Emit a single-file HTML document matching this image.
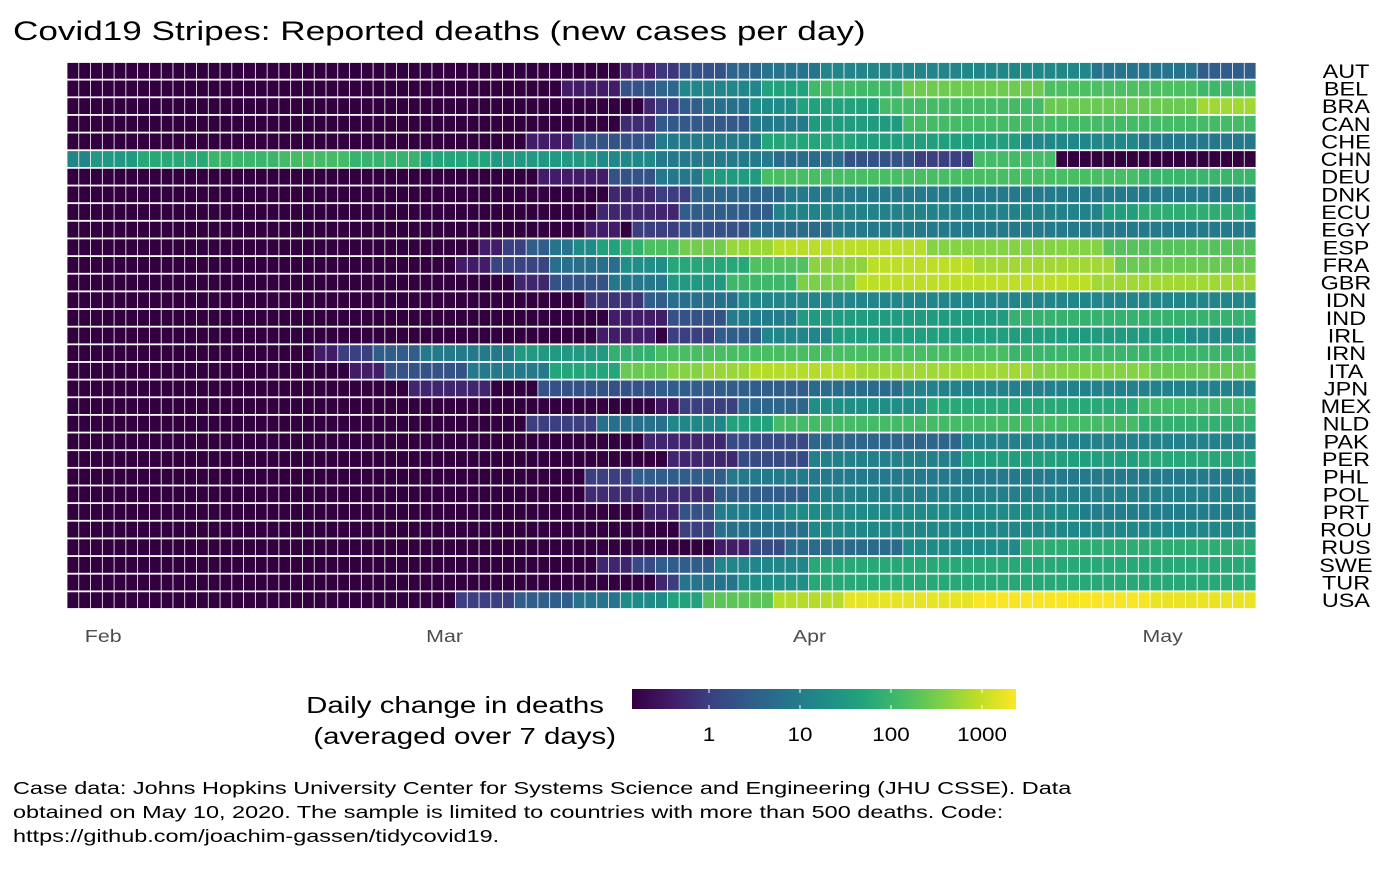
<!DOCTYPE html>
<html><head><meta charset="utf-8">
<style>
body{margin:0;background:#fff;font-family:"Liberation Sans",Arial,sans-serif;}
svg text{font-family:"Liberation Sans",Arial,sans-serif;}
</style></head>
<body>
<svg id="chart" width="1400" height="865" xmlns="http://www.w3.org/2000/svg">
<text data-sx="1.3" x="13" y="40" font-size="27" fill="#000">Covid19 Stripes: Reported deaths (new cases per day)</text>
<g id="tiles"></g>
<g id="ylabels"></g>
<g id="xlabels"></g>
<g>
<defs><linearGradient id="vir" x1="0" x2="1" y1="0" y2="0">
<stop offset="0" stop-color="#33003f"/><stop offset="0.1" stop-color="#421a68"/><stop offset="0.2" stop-color="#3b3f80"/><stop offset="0.3" stop-color="#325a8a"/><stop offset="0.4" stop-color="#26738c"/><stop offset="0.5" stop-color="#1f8c88"/><stop offset="0.6" stop-color="#22a37c"/><stop offset="0.7" stop-color="#44bb67"/><stop offset="0.8" stop-color="#7acf4a"/><stop offset="0.9" stop-color="#bdde26"/><stop offset="1" stop-color="#fde725"/>
</linearGradient></defs>
<text data-sx="1.28" data-anchor-end="604" x="604" y="713" font-size="23">Daily change in deaths</text>
<text data-sx="1.28" data-anchor-end="616" x="616" y="744" font-size="23">(averaged over 7 days)</text>
<rect x="632" y="689" width="384" height="20" fill="url(#vir)"/>
<g id="legticks"></g>
</g>
<g font-size="17.5" fill="#000">
<text data-sx="1.34" x="13" y="794">Case data: Johns Hopkins University Center for Systems Science and Engineering (JHU CSSE). Data</text>
<text data-sx="1.34" x="13" y="818">obtained on May 10, 2020. The sample is limited to countries with more than 500 deaths. Code:</text>
<text data-sx="1.34" x="13" y="842">https://github.com/joachim-gassen/tidycovid19.</text>
</g>
</svg>
<script>
const countries = ["AUT","BEL","BRA","CAN","CHE","CHN","DEU","DNK","ECU","EGY","ESP","FRA","GBR","IDN","IND","IRL","IRN","ITA","JPN","MEX","NLD","PAK","PER","PHL","POL","PRT","ROU","RUS","SWE","TUR","USA"];
const dateLabels = ["Feb","Mar","Apr","May"];
const dateLabelIdx = [3,32,63,93];
const legendTicks = [1,10,100,1000];
// run-length encoded daily deaths (7-day average), [days, value]
const AUT=[[47,0],[3,0.4],[2,0.8],[4,2],[3,4],[5,7],[12,14],[11,15],[9,7],[5,3]];
const BEL=[[42,0],[5,0.4],[3,2],[2,4],[7,14],[4,45],[8,120],[12,280],[13,150],[5,110]];
const BRA=[[49,0],[1,0.5],[2,1],[2,3],[4,6],[4,18],[7,45],[14,130],[13,250],[5,600]];
const CAN=[[47,0],[3,0.6],[8,2.5],[5,9],[8,35],[30,130]];
const CHE=[[39,0],[4,0.4],[7,2],[9,9],[8,50],[14,40],[10,15],[10,8]];
const CHN=[[2,14],[4,30],[6,60],[6,100],[6,130],[6,90],[6,50],[9,30],[5,16],[10,9],[6,5],[6,2],[5,1],[7,130],[17,0]];
const DEU=[[40,0],[6,0.4],[4,2],[4,8],[5,35],[32,140],[10,100]];
const DNK=[[46,0],[4,0.5],[3,1],[8,4],[40,9]];
const ECU=[[45,0],[7,0.5],[8,3],[28,13],[3,40],[9,70],[1,45]];
const EGY=[[44,0],[3,0.4],[1,0],[4,1],[6,2],[7,5],[36,9]];
const ESP=[[35,0],[2,0.4],[2,1],[2,3],[2,7],[2,17],[2,45],[2,80],[3,150],[4,300],[4,550],[13,850],[15,400],[13,180]];
const FRA=[[33,0],[3,0.4],[5,1.2],[6,6],[4,20],[7,55],[5,160],[5,450],[9,900],[12,600],[12,250]];
const GBR=[[38,0],[3,0.5],[5,2],[5,8],[5,30],[6,110],[5,350],[20,900],[14,600]];
const IDN=[[44,0],[5,0.7],[2,3],[6,6],[44,14]];
const IND=[[46,0],[5,0.4],[5,2],[6,10],[18,35],[21,85]];
const IRL=[[45,0],[5,0.4],[1,0.1],[4,1],[4,3],[6,14],[20,40],[10,35],[6,17]];
const IRN=[[21,0],[2,0.4],[3,1],[4,3],[8,9],[8,30],[4,80],[30,140],[21,100]];
const ITA=[[24,0],[3,0.4],[7,2],[7,9],[6,50],[4,250],[3,400],[4,550],[9,800],[15,600],[10,400],[9,250]];
const JPN=[[29,0],[7,0.5],[4,0.1],[10,2],[13,3],[8,5],[30,12]];
const MEX=[[50,0],[2,0.3],[5,1],[6,4],[10,20],[18,60],[10,130]];
const NLD=[[39,0],[6,1],[6,6],[5,15],[4,45],[31,130],[10,80]];
const PAK=[[49,0],[7,0.5],[7,1.5],[13,4],[25,12]];
const PER=[[51,0],[6,0.5],[6,1.5],[13,11],[15,40],[10,55]];
const PHL=[[44,0],[4,1],[8,3],[45,9]];
const POL=[[44,0],[11,0.6],[8,3],[38,11]];
const PRT=[[49,0],[3,0.5],[3,2],[6,10],[25,18],[15,10]];
const ROU=[[52,0],[3,1],[8,6],[38,15]];
const RUS=[[55,0],[3,0.4],[3,1.5],[10,5],[10,18],[20,70]];
const SWE=[[45,0],[3,0.5],[2,1.5],[5,3],[8,14],[38,60]];
const TUR=[[50,0],[1,0.5],[1,1],[5,7],[6,20],[38,60]];
const USA=[[33,0],[5,1],[5,3],[4,7],[4,18],[3,45],[6,200],[6,800],[11,1700],[15,2200],[9,1800]];
const series=[AUT,BEL,BRA,CAN,CHE,CHN,DEU,DNK,ECU,EGY,ESP,FRA,GBR,IDN,IND,IRL,IRN,ITA,JPN,MEX,NLD,PAK,PER,PHL,POL,PRT,ROU,RUS,SWE,TUR,USA];

const NS="http://www.w3.org/2000/svg";
const nDays=101, x0=67, x1=1256, y0=62, y1=609;
const cw=(x1-x0)/nDays, rh=(y1-y0)/series.length;
const xScale=i=>x0+i*cw;
const yScale=r=>y0+r*rh;
const lmin=-0.846, lmax=3.374;
const stops=[[51,0,63],[66,26,104],[59,63,128],[50,90,138],[38,115,140],[31,140,136],[34,163,124],[68,187,103],[122,207,74],[189,222,38],[253,231,37]];
function color(v){
  let t = v<=0?0:(Math.log10(v)-lmin)/(lmax-lmin);
  t=Math.max(0,Math.min(1,t));
  const p=t*10, i=Math.min(9,Math.floor(p)), f=p-i;
  const a=stops[i], b=stops[i+1];
  return `rgb(${Math.round(a[0]+(b[0]-a[0])*f)},${Math.round(a[1]+(b[1]-a[1])*f)},${Math.round(a[2]+(b[2]-a[2])*f)})`;
}
function expand(runs){const out=[];runs.forEach(([n,v])=>{for(let k=0;k<n;k++)out.push(v);});return out.slice(0,nDays);}
const tiles=document.getElementById('tiles');
series.forEach((runs,r)=>{
  const vals=expand(runs);
  vals.forEach((v,i)=>{
    const el=document.createElementNS(NS,'rect');
    
    
    el.setAttribute('x',(xScale(i)+0.4).toFixed(2));
    el.setAttribute('y',(yScale(r)+0.9).toFixed(2));
    el.setAttribute('width',(cw-0.8).toFixed(2));
    el.setAttribute('height',(rh-1.8).toFixed(2));
    el.setAttribute('fill',color(v));
    tiles.appendChild(el);
  });
  const t=document.createElementNS(NS,'text');
  
  
  t.setAttribute('data-sx','1.2');
  t.setAttribute('data-center','1346');
  t.setAttribute('x',1346);t.setAttribute('y',(yScale(r)+rh/2+7).toFixed(1));
  t.setAttribute('font-size','19.5');
  t.textContent=countries[r];
  document.getElementById('ylabels').appendChild(t);
});
dateLabels.forEach((d,k)=>{
  const t=document.createElementNS(NS,'text');
  
  
  t.setAttribute('data-sx','1.22');
  t.setAttribute('data-center',(xScale(dateLabelIdx[k])+cw/2-5).toFixed(1));
  t.setAttribute('x',0);t.setAttribute('y',642);
  t.setAttribute('font-size','17.5');t.setAttribute('fill','#4d4d4d');
  t.textContent=d;
  document.getElementById('xlabels').appendChild(t);
});
const lt=document.getElementById('legticks');
legendTicks.forEach(v=>{
  const x=632+(Math.log10(v)-lmin)/(lmax-lmin)*384;
  [[689,693],[705,709]].forEach(([a,b])=>{
    const l=document.createElementNS(NS,'line');
    
    
    l.setAttribute('x1',x);l.setAttribute('x2',x);l.setAttribute('y1',a);l.setAttribute('y2',b);
    l.setAttribute('stroke','#fff');l.setAttribute('stroke-width','1');
    lt.appendChild(l);
  });
  const t=document.createElementNS(NS,'text');
  
  
  t.setAttribute('data-sx','1.18');
  t.setAttribute('data-center',x.toFixed(1));
  t.setAttribute('x',x);t.setAttribute('y',741);t.setAttribute('font-size','19');
  t.textContent=v;
  lt.appendChild(t);
});
// horizontal stretch of text to match reference aspect
document.querySelectorAll('text[data-sx]').forEach(t=>{
  const sx=parseFloat(t.getAttribute('data-sx'));
  const w=t.getComputedTextLength()*sx;
  t.setAttribute('textLength',w.toFixed(1));
  t.setAttribute('lengthAdjust','spacingAndGlyphs');
  if(t.hasAttribute('data-center')) t.setAttribute('x',(parseFloat(t.getAttribute('data-center'))-w/2).toFixed(1));
  if(t.hasAttribute('data-anchor-end')) t.setAttribute('x',(parseFloat(t.getAttribute('data-anchor-end'))-w).toFixed(1));
});
</script>
</body></html>
